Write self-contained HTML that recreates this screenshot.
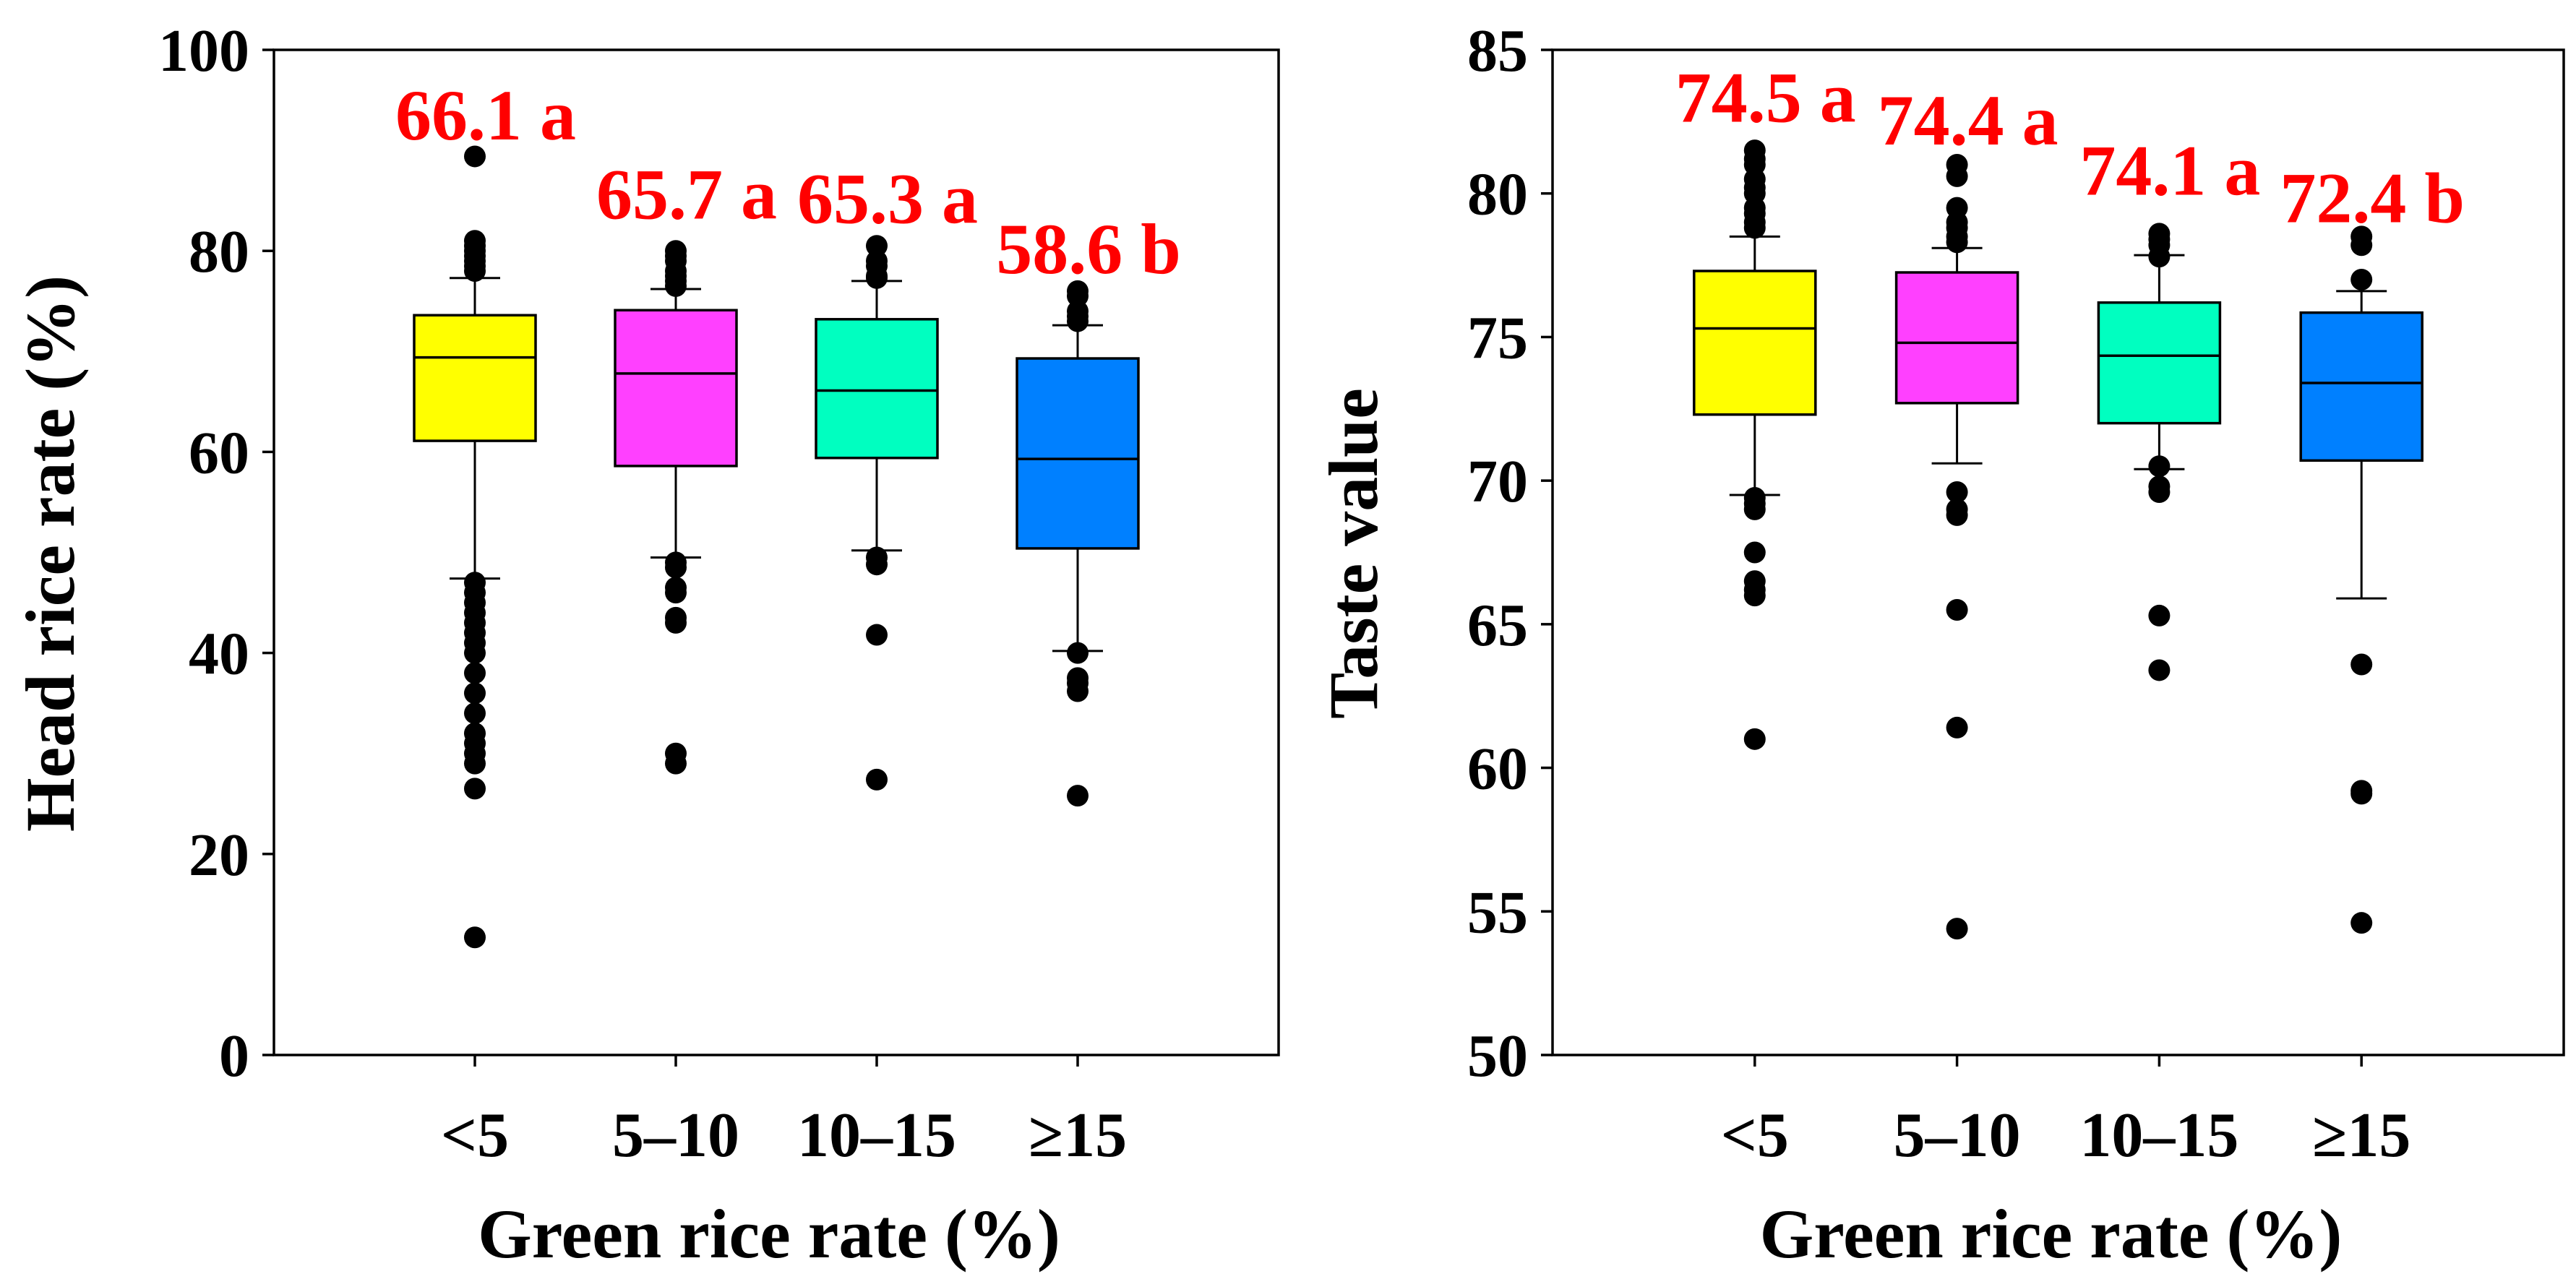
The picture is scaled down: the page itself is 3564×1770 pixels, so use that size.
<!DOCTYPE html>
<html><head><meta charset="utf-8">
<style>
html,body{margin:0;padding:0;background:#fff;}
svg{display:block;}
text{font-family:"Liberation Serif",serif;font-weight:bold;}
</style></head>
<body>
<svg id="chart" width="3564" height="1770" viewBox="0 0 3564 1770" xmlns="http://www.w3.org/2000/svg"></svg>
<script>
const categories = ["<5", "5–10", "10–15", "≥15"];
const colors = ["#ffff00", "#ff40ff", "#00ffc0", "#0080ff"];

const headQ1 = [61.1, 58.6, 59.4, 50.4];
const headMedian = [69.4, 67.8, 66.1, 59.3];
const headQ3 = [73.6, 74.1, 73.2, 69.3];
const headWhiskLo = [47.4, 49.5, 50.2, 40.2];
const headWhiskHi = [77.3, 76.2, 77.0, 72.6];
const headOutliers = [
  [89.4, 81, 80.5, 80, 79.5, 79, 78.5, 78, 47, 46, 45, 44, 43, 42, 41, 40, 38, 36, 34, 32, 31, 30, 29, 26.5, 11.7],
  [80, 79.5, 79, 78, 77.5, 77, 76.5, 49, 48.5, 46.5, 46, 43.5, 43, 30, 29],
  [80.5, 79, 78.5, 77.5, 77.3, 49.5, 48.8, 41.8, 27.4],
  [76, 75.5, 74, 73.5, 73, 40, 37.5, 37, 36.2, 25.8]
];
const headLabels = ["66.1 a", "65.7 a", "65.3 a", "58.6 b"];
const headLabelY = [91.1, 83.2, 82.8, 77.8];
const headTicks = [0, 20, 40, 60, 80, 100];

const tasteQ1 = [72.3, 72.7, 72.0, 70.7];
const tasteMedian = [75.3, 74.8, 74.35, 73.4];
const tasteQ3 = [77.3, 77.25, 76.2, 75.85];
const tasteWhiskLo = [69.5, 70.6, 70.4, 65.9];
const tasteWhiskHi = [78.5, 78.1, 77.85, 76.6];
const tasteOutliers = [
  [81.5, 81.2, 81, 80.5, 80.2, 80, 79.5, 79.3, 79, 78.8, 69.4, 69.2, 69, 67.5, 66.5, 66.2, 66, 61],
  [81, 80.6, 79.5, 79, 78.8, 78.5, 78.3, 69.6, 69, 68.8, 65.5, 61.4, 54.4],
  [78.6, 78.4, 78.2, 77.8, 70.5, 69.8, 69.6, 65.3, 63.4],
  [78.5, 78.2, 77, 63.6, 59.2, 59.1, 54.6]
];
const tasteLabels = ["74.5 a", "74.4 a", "74.1 a", "72.4 b"];
const tasteLabelY = [82.5, 81.7, 79.95, 79.0];
const tasteTicks = [50, 55, 60, 65, 70, 75, 80, 85];

const NS = "http://www.w3.org/2000/svg";
const svg = document.getElementById("chart");
function mk(tag, attrs, parent) {
  const e = document.createElementNS(NS, tag);
  for (const k in attrs) e.setAttribute(k, attrs[k]);
  (parent || svg).appendChild(e);
  return e;
}

function drawPanel(p) {
  const g = mk("g", {});
  
  
  const L = p.left, R = p.right, T = 69, B = 1460;
  const yS = v => B - (v - p.ymin) / (p.ymax - p.ymin) * (B - T);
  const xS = i => L + (i + 1) * (R - L) / 5;
  const frame = mk("rect", {x: L, y: T, width: R - L, height: B - T, fill: "none", stroke: "#000", "stroke-width": 3.5}, g);
  
  
  p.ticks.forEach(t => {
    const y = yS(t);
    const tk = mk("line", {x1: L - 16, x2: L, y1: y, y2: y, stroke: "#000", "stroke-width": 3.5}, g);
    
    
    const tl = mk("text", {x: L - 34, y: y + 29, "text-anchor": "end", "font-size": 84}, g);
    tl.textContent = t;
    
    
  });
  categories.forEach((c, i) => {
    const x = xS(i);
    const tk = mk("line", {x1: x, x2: x, y1: B, y2: B + 16, stroke: "#000", "stroke-width": 3.5}, g);
    
    
    const tl = mk("text", {x: x, y: 1600, "text-anchor": "middle", "font-size": 88}, g);
    tl.textContent = c;
    
    
    const hw = 84;
    const wl = mk("line", {x1: x, x2: x, y1: yS(p.whHi[i]), y2: yS(p.whLo[i]), stroke: "#000", "stroke-width": 3}, g);
    
    
    [p.whHi[i], p.whLo[i]].forEach(v => {
      const cap = mk("line", {x1: x - 35, x2: x + 35, y1: yS(v), y2: yS(v), stroke: "#000", "stroke-width": 3}, g);
      
      
    });
    const box = mk("rect", {x: x - hw, y: yS(p.q3[i]), width: 2 * hw, height: yS(p.q1[i]) - yS(p.q3[i]), fill: colors[i], stroke: "#000", "stroke-width": 3.5}, g);
    
    
    const md = mk("line", {x1: x - hw, x2: x + hw, y1: yS(p.med[i]), y2: yS(p.med[i]), stroke: "#000", "stroke-width": 3.5}, g);
    
    
    p.out[i].forEach(v => {
      const d = mk("circle", {cx: x, cy: yS(v), r: 15, fill: "#000"}, g);
      
      
    });
    const lb = mk("text", {x: x + 15, y: yS(p.labY[i]), "text-anchor": "middle", "font-size": 100, fill: "#ff0000"}, g);
    lb.textContent = p.labels[i];
    
    
  });
  const yt = mk("text", {x: 0, y: 0, "text-anchor": "middle", "font-size": 96, transform: "translate(" + p.ytX + ",766) rotate(-90)"}, g);
  yt.textContent = p.ytitle;
  
  
  const xt = mk("text", {x: (L + R) / 2 - 10, y: 1740, "text-anchor": "middle", "font-size": 96}, g);
  xt.textContent = "Green rice rate (%)";
  
  
}

drawPanel({name: "head-rice-panel", left: 379, right: 1769, ymin: 0, ymax: 100, ticks: headTicks,
  q1: headQ1, q3: headQ3, med: headMedian, whLo: headWhiskLo, whHi: headWhiskHi, out: headOutliers,
  labels: headLabels, labY: headLabelY, ytitle: "Head rice rate (%)", ytX: 102});
drawPanel({name: "taste-value-panel", left: 2148, right: 3547, ymin: 50, ymax: 85, ticks: tasteTicks,
  q1: tasteQ1, q3: tasteQ3, med: tasteMedian, whLo: tasteWhiskLo, whHi: tasteWhiskHi, out: tasteOutliers,
  labels: tasteLabels, labY: tasteLabelY, ytitle: "Taste value", ytX: 1905});
</script>
</body></html>
